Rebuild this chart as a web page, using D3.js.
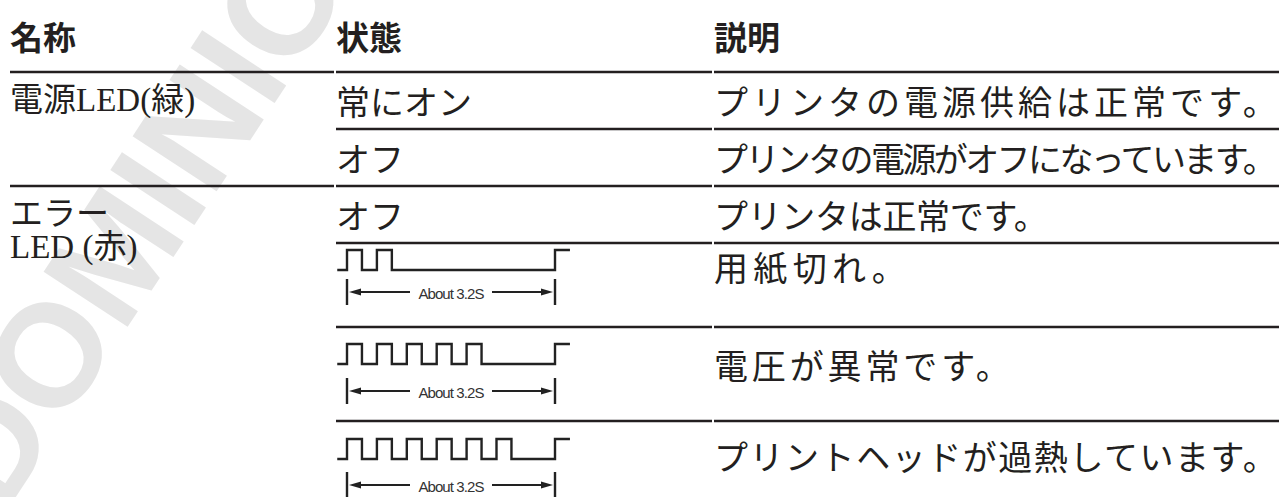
<!DOCTYPE html>
<html><head><meta charset="utf-8">
<script src="https://cdn.jsdelivr.net/npm/d3@7"></script>
<style>
html,body{margin:0;padding:0;background:#fff;overflow:hidden}
</style></head><body>
<svg id="c" width="1279" height="497"></svg>
<script>
// ---- data ----
const headers = ["名称", "状態", "説明"];
const groupNames = [["電源LED(緑)"], ["エラー", "LED (赤)"]];
const groupRowCounts = [2, 4];
const stateLabels = ["常にオン", "オフ", "オフ", null, null, null];
const blinkPulses = [null, null, null, 2, 5, 6];
const descriptions = [
  "プリンタの電源供給は正常です。",
  "プリンタの電源がオフになっています。",
  "プリンタは正常です。",
  "用紙切れ。",
  "電圧が異常です。",
  "プリントヘッドが過熱しています。"
];
const blinkWindow = [0, 3.2];      // seconds
const pulseOn = 0.23;              // seconds high
const pulsePeriod = 0.46;          // seconds
const durationLabel = "About 3.2S";
const watermarkText = "DOMINION";

// ---- layout ----
const W = 1279, H = 497;
const ink = "#231f20";
const colX = [10, 336, 714];
const colRight = [334, 712, 1279];
const headerBottom = 72;
const rowHeights = [57, 57, 57, 84, 94, 94];
const textOffset = [28, 28, 28, 23, 37, 34];      // description centre below row top
const waveHighOffset = [0, 0, 0, 7, 17, 18];
const waveAmp = 20;
const arrowOffset = [0, 0, 0, 49, 64, 64];
const descInkRight = [1257, 1257, 1028, 886, 990, 1257];
const fs = 34;
const rowTops = [];
{ let y = headerBottom; rowHeights.forEach(h => { rowTops.push(y); y += h; }); }

const svg = d3.select("#c");
svg.append("rect").attr("width", W).attr("height", H).attr("fill", "#fff");

// watermark
svg.append("text")
  .attr("transform", "translate(2,518) rotate(-56.7)")
  .attr("font-family", "Liberation Sans, Arial, sans-serif")
  .attr("font-weight", "bold")
  .attr("font-size", 146)
  .attr("fill", "#e5e5e5")
  .text(watermarkText);

const jp = "'Noto Sans CJK JP', sans-serif";
const mixed = "'Liberation Serif', 'Noto Sans CJK JP', serif";

// header
svg.selectAll("text.h").data(headers).join("text")
  .attr("class", "h")
  .attr("x", (d, i) => colX[i])
  .attr("y", 36)
  .attr("dominant-baseline", "central")
  .attr("font-family", jp)
  .attr("font-weight", "bold")
  .attr("font-size", 33)
  .attr("fill", ink)
  .text(d => d);

// lines
const lines = [];
[0, 1, 2].forEach(c => lines.push({ x1: colX[c], x2: colRight[c], y: headerBottom }));
let r = 0;
groupRowCounts.forEach((n, g) => {
  for (let k = 0; k < n; k++, r++) {
    const yb = rowTops[r] + rowHeights[r];
    if (r === rowTops.length - 1) continue;
    const isGroupEnd = k === n - 1;
    (isGroupEnd ? [0, 1, 2] : [1, 2]).forEach(c => lines.push({ x1: colX[c], x2: colRight[c], y: yb }));
  }
});
svg.selectAll("line.row").data(lines).join("line")
  .attr("class", "row")
  .attr("x1", d => d.x1).attr("x2", d => d.x2)
  .attr("y1", d => d.y).attr("y2", d => d.y)
  .attr("stroke", ink).attr("stroke-width", 2.5);

// group names
let startRow = 0;
groupRowCounts.forEach((n, g) => {
  const t = svg.append("text")
    .attr("font-family", mixed)
    .attr("font-size", 33)
    .attr("fill", ink);
  groupNames[g].forEach((s, i) => {
    t.append("tspan")
      .attr("x", colX[0])
      .attr("y", rowTops[startRow] + 28 + i * 33)
      .attr("dominant-baseline", "central")
      .text(s);
  });
  startRow += n;
});

// states
svg.selectAll("text.st").data(stateLabels.map((s, i) => ({ s, i })).filter(d => d.s))
  .join("text").attr("class", "st")
  .attr("x", colX[1])
  .attr("y", d => rowTops[d.i] + 28)
  .attr("dominant-baseline", "central")
  .attr("font-family", jp)
  .attr("font-size", fs)
  .attr("fill", ink)
  .text(d => d.s);

// descriptions (tracking fitted to the reference width)
svg.selectAll("text.ds").data(descriptions.map((s, i) => ({ s, i })))
  .join("text").attr("class", "ds")
  .attr("x", colX[2])
  .attr("y", d => rowTops[d.i] + textOffset[d.i])
  .attr("dominant-baseline", "central")
  .attr("font-family", jp)
  .attr("font-size", fs)
  .attr("fill", ink)
  .text(d => d.s)
  .each(function (d) {
    const A = this.getComputedTextLength();
    const n = [...d.s].length;
    const overhang = d.s.endsWith("。") ? 0.58 * fs : 0.08 * fs;
    const naturalInk = colX[2] + A - overhang;
    const ls = (descInkRight[d.i] - naturalInk) / (n - 1);
    d3.select(this).attr("letter-spacing", ls.toFixed(2));
  });

// waveforms
const x = d3.scaleLinear().domain(blinkWindow).range([347, 555]);
const preStub = 0.15, postStub = 0.23;
blinkPulses.forEach((p, i) => {
  if (!p) return;
  const top = rowTops[i];
  const hi = top + waveHighOffset[i];
  const y = d3.scaleLinear().domain([0, 1]).range([hi + waveAmp, hi]);
  const pts = [[blinkWindow[0] - preStub, 0]];
  for (let k = 0; k < p; k++) {
    const t0 = blinkWindow[0] + k * pulsePeriod;
    pts.push([t0, 0], [t0, 1], [t0 + pulseOn, 1], [t0 + pulseOn, 0]);
  }
  pts.push([blinkWindow[1], 0], [blinkWindow[1], 1], [blinkWindow[1] + postStub, 1]);
  svg.append("path")
    .attr("d", d3.line().x(d => x(d[0])).y(d => y(d[1]))(pts))
    .attr("fill", "none").attr("stroke", "#222").attr("stroke-width", 2.4)
    .attr("stroke-linejoin", "miter");

  // dimension
  const ay = top + arrowOffset[i];
  const g = svg.append("g");
  blinkWindow.forEach(t => g.append("line")
    .attr("x1", x(t)).attr("x2", x(t)).attr("y1", ay - 13).attr("y2", ay + 13)
    .attr("stroke", "#222").attr("stroke-width", 2.4));
  const mid = x((blinkWindow[0] + blinkWindow[1]) / 2);
  const gap = 41;
  g.append("line").attr("x1", x(blinkWindow[0]) + 8).attr("x2", mid - gap)
    .attr("y1", ay).attr("y2", ay).attr("stroke", "#222").attr("stroke-width", 1.8);
  g.append("line").attr("x1", mid + gap).attr("x2", x(blinkWindow[1]) - 8)
    .attr("y1", ay).attr("y2", ay).attr("stroke", "#222").attr("stroke-width", 1.8);
  const ax0 = x(blinkWindow[0]) + 2, ax1 = x(blinkWindow[1]) - 2;
  g.append("path").attr("d", `M${ax0},${ay}L${ax0 + 12},${ay - 3.5}L${ax0 + 12},${ay + 3.5}Z`).attr("fill", "#222");
  g.append("path").attr("d", `M${ax1},${ay}L${ax1 - 12},${ay - 3.5}L${ax1 - 12},${ay + 3.5}Z`).attr("fill", "#222");
  g.append("text")
    .attr("x", mid).attr("y", ay + 1)
    .attr("text-anchor", "middle").attr("dominant-baseline", "central")
    .attr("font-family", "'Liberation Sans', Arial, sans-serif")
    .attr("font-size", 15).attr("letter-spacing", -0.9)
    .attr("fill", "#333")
    .text(durationLabel);
});
</script>
</body></html>
